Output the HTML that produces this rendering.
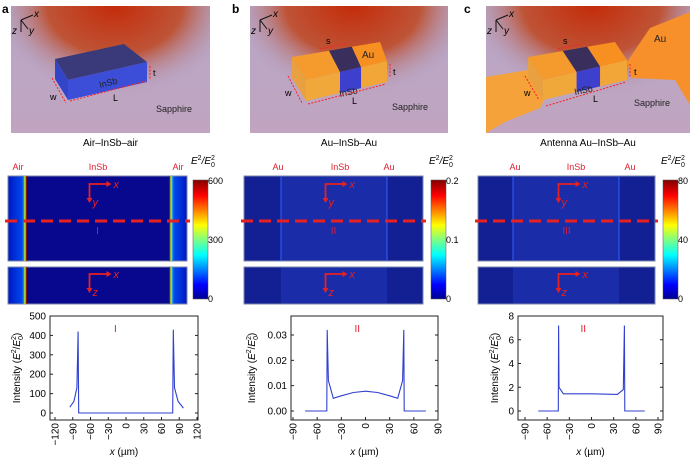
<!DOCTYPE html>
<html><head><meta charset="utf-8"><style>
html,body{margin:0;padding:0;background:#fff}
svg{display:block;font-family:"Liberation Sans",sans-serif}
</style></head><body>
<svg id="s" width="700" height="462" viewBox="0 0 700 462" xmlns="http://www.w3.org/2000/svg">
<defs>
<linearGradient id="bg" x1="0" y1="0" x2="0" y2="1"><stop offset="0" stop-color="#b8a8c8"/><stop offset="1" stop-color="#c0a4c0"/></linearGradient>
<radialGradient id="glow" cx="0.5" cy="0.5" r="0.5"><stop offset="0" stop-color="#c42a08"/><stop offset="0.55" stop-color="#bf4a26" stop-opacity="0.9"/><stop offset="1" stop-color="#b0a0c4" stop-opacity="0"/></radialGradient>
<linearGradient id="jet" x1="0" y1="1" x2="0" y2="0"><stop offset="0" stop-color="#00008f"/><stop offset="0.12" stop-color="#0000ff"/><stop offset="0.37" stop-color="#00ffff"/><stop offset="0.5" stop-color="#80ff80"/><stop offset="0.62" stop-color="#ffff00"/><stop offset="0.87" stop-color="#ff0000"/><stop offset="1" stop-color="#800000"/></linearGradient>
<linearGradient id="airL" x1="0" x2="1"><stop offset="0" stop-color="#0018c0"/><stop offset="0.8" stop-color="#0048f0"/><stop offset="1" stop-color="#40e0c0"/></linearGradient>
<linearGradient id="airR" x1="1" x2="0"><stop offset="0" stop-color="#0018c0"/><stop offset="0.8" stop-color="#0048f0"/><stop offset="1" stop-color="#40e0c0"/></linearGradient>
<clipPath id="clip-a"><rect x="11" y="6" width="199" height="127"/></clipPath>
<clipPath id="clip-b"><rect x="250" y="6" width="198" height="127"/></clipPath>
<clipPath id="clip-c"><rect x="486" y="6" width="204" height="127"/></clipPath>
</defs>
<g id="panels"></g>
<g id="heat"></g>
<g id="plots"></g>
</svg>
<script>
// ---- plot data ----
const xA=[-95,-88,-83,-81,-80,-79,78,79,80,82,88,97];
const yA=[30,60,130,420,0,0,0,0,430,130,60,25];
const xB=[-75,-48,-47.5,-46,-40,-30,-15,0,15,30,40,46,47.5,48,75];
const yB=[0,0,0.032,0.012,0.005,0.006,0.0073,0.0078,0.0073,0.006,0.005,0.012,0.032,0,0];
const xC=[-72,-45,-44.5,-44,-38,0,35,43,44.5,45,72];
const yC=[0,0,7.2,2,1.45,1.45,1.4,1.8,7.2,0,0];
const ticksA=[-120,-90,-60,-30,0,30,60,90,120];
const yticksA=[0,100,200,300,400,500];
const ticksB=[-90,-60,-30,0,30,60,90];
const yticksB=[0,0.01,0.02,0.03];
const yticksBLbl=["0.00","0.01","0.02","0.03"];
const ticksC=[-90,-60,-30,0,30,60,90];
const yticksC=[0,2,4,6,8];

const NS="http://www.w3.org/2000/svg";
function mk(parent,tag,attrs,text){const e=document.createElementNS(NS,tag);for(const k in attrs)e.setAttribute(k,attrs[k]);if(text!==undefined)e.textContent=text;parent.appendChild(e);return e;}
const P=document.getElementById('panels'),H=document.getElementById('heat'),PL=document.getElementById('plots');

// ---- 3D panels ----
function lerp(p,q,t){return [p[0]+(q[0]-p[0])*t,p[1]+(q[1]-p[1])*t];}
function pts(a){return a.map(p=>p[0].toFixed(1)+','+p[1].toFixed(1)).join(' ');}
function box(g,a,b,c,d,h,segs){
  segs.forEach(s=>{
    const A=lerp(a,b,s[0]),B=lerp(a,b,s[1]),C=lerp(d,c,s[1]),D=lerp(d,c,s[0]);
    let e=mk(g,'polygon',{points:pts([A,B,C,D]),fill:s[2]});
    
    e=mk(g,'polygon',{points:pts([D,C,[C[0],C[1]+h],[D[0],D[1]+h]]),fill:s[3]});
    
  });
  const e=mk(g,'polygon',{points:pts([a,d,[d[0],d[1]+h],[a[0],a[1]+h]]),fill:segs[0][4]});
  
}
function triad(g,x,y){
  mk(g,'path',{d:`M${x} ${y} l12 -5 M${x} ${y} l0 12 M${x} ${y} l7 9`,stroke:'#111','stroke-width':1,fill:'none'});
  mk(g,'text',{x:x+13,y:y-3,'font-size':10,'font-style':'italic'},'x');
  mk(g,'text',{x:x-9,y:y+14,'font-size':10,'font-style':'italic'},'z');
  mk(g,'text',{x:x+8,y:y+14,'font-size':10,'font-style':'italic'},'y');
}
function panel(id,x0,w,letter,lx,caption){
  const g=mk(P,'g',{});
  
  const inner=mk(g,'g',{'clip-path':'url(#clip-'+id+')'});
  mk(inner,'rect',{x:x0,y:6,width:w,height:127,fill:'url(#bg)'});
  mk(inner,'ellipse',{cx:x0+w*0.52,cy:4,rx:w*0.62,ry:92,fill:'url(#glow)'});
  const t=mk(g,'text',{x:lx,y:13,'font-size':12,'font-weight':'bold'},letter);
  
  const c=mk(g,'text',{x:x0+w/2,y:146,'font-size':10,'text-anchor':'middle'},caption);
  
  triad(g,x0+10,20);
  return inner;
}
const ga=panel('a',11,199,'a',2,'Air–InSb–air');
box(ga,[55,59],[124,44],[147,62],[68,80],20,[[0,1,'#3a3a7a','#3c4ed8','#3344c8']]);
mk(ga,'text',{x:100,y:88,'font-size':9,transform:'rotate(-14 100 88)',fill:'#222'},'InSb');
mk(ga,'text',{x:156,y:112,'font-size':9,fill:'#222'},'Sapphire');
mk(ga,'path',{d:'M52 78 L66 103 M70 101 L146 81 M150 66 L150 79',stroke:'#ff2020','stroke-width':1,'stroke-dasharray':'2,1.5',fill:'none'});
mk(ga,'text',{x:50,y:100,'font-size':9},'w');mk(ga,'text',{x:113,y:101,'font-size':9},'L');mk(ga,'text',{x:153,y:76,'font-size':9},'t');

const gb=panel('b',250,198,'b',232,'Au–InSb–Au');
box(gb,[292,57],[380,42],[387,61],[306,80],21,[[0,0.42,'#f59a2c','#f0a83a','#e8a040'],[0.42,0.68,'#3a2e5c','#3c40cc'],[0.68,1,'#f79020','#f2a638']]);
mk(gb,'text',{x:340,y:97,'font-size':9,transform:'rotate(-12 340 97)',fill:'#222'},'InSb');
mk(gb,'text',{x:362,y:58,'font-size':10,fill:'#222'},'Au');
mk(gb,'text',{x:392,y:110,'font-size':9,fill:'#222'},'Sapphire');
mk(gb,'path',{d:'M288 76 L302 103 M308 104 L386 84 M390 64 L390 78 M320 49 L345 44',stroke:'#ff2020','stroke-width':1,'stroke-dasharray':'2,1.5',fill:'none'});
mk(gb,'text',{x:285,y:96,'font-size':9},'w');mk(gb,'text',{x:352,y:104,'font-size':9},'L');mk(gb,'text',{x:393,y:75,'font-size':9},'t');mk(gb,'text',{x:326,y:44,'font-size':9},'s');

const gc=panel('c',486,204,'c',464,'Antenna Au–InSb–Au');
let e=mk(gc,'polygon',{points:'486,77 528,70 545,98 540,108 505,122 486,133',fill:'#f5a23a'});

e=mk(gc,'polygon',{points:'627,62 650,28 690,12 690,105 675,80 632,78',fill:'#f7902a'});

box(gc,[528,57],[615,42],[627,60],[543,80],20,[[0,0.4,'#f59a2c','#f0a83a','#e8a040'],[0.4,0.68,'#3a2e5c','#3c40cc'],[0.68,1,'#f79020','#f2a638']]);
mk(gc,'text',{x:575,y:95,'font-size':9,transform:'rotate(-12 575 95)',fill:'#222'},'InSb');
mk(gc,'text',{x:654,y:42,'font-size':10,fill:'#222'},'Au');
mk(gc,'text',{x:634,y:106,'font-size':9,fill:'#222'},'Sapphire');
mk(gc,'path',{d:'M525 76 L539 100 M546 106 L626 82 M630 64 L630 78 M558 49 L582 44',stroke:'#ff2020','stroke-width':1,'stroke-dasharray':'2,1.5',fill:'none'});
mk(gc,'text',{x:524,y:96,'font-size':9},'w');mk(gc,'text',{x:593,y:102,'font-size':9},'L');mk(gc,'text',{x:634,y:75,'font-size':9},'t');mk(gc,'text',{x:563,y:44,'font-size':9},'s');

// ---- heatmaps ----
function arrows(g,x,y,lab){
  mk(g,'path',{d:`M${x} ${y+16} L${x} ${y} L${x+17} ${y}`,stroke:'#e82020','stroke-width':1.8,fill:'none'});
  mk(g,'path',{d:`M${x+17} ${y-3} l5 3 l-5 3z M${x-3} ${y+14} l3 5 l3 -5z`,fill:'#e82020'});
  mk(g,'text',{x:x+24,y:y+4,'font-size':11,'font-style':'italic',fill:'#e82020'},'x');
  mk(g,'text',{x:x+3,y:y+22,'font-size':11,'font-style':'italic',fill:'#e82020'},lab);
}
function heat(id,x0,x1,i0,i1,bgIn,bgOut,air,cbx,cbl,roman,labs){
  const g=mk(H,'g',{});
  
  [[176,261,'top'],[267,304,'bottom']].forEach(r=>{
    let e=mk(g,'rect',{x:x0,y:r[0],width:x1-x0,height:r[1]-r[0],fill:bgOut,stroke:'#7b86a8','stroke-width':1});
    
    mk(g,'rect',{x:i0,y:r[0]+0.5,width:i1-i0,height:r[1]-r[0]-1,fill:bgIn});
    if(air){
      mk(g,'rect',{x:x0+0.5,y:r[0]+0.5,width:i0-x0,height:r[1]-r[0]-1,fill:'url(#airL)'});
      mk(g,'rect',{x:i1,y:r[0]+0.5,width:x1-i1-0.5,height:r[1]-r[0]-1,fill:'url(#airR)'});
      mk(g,'line',{x1:i0,y1:r[0],x2:i0,y2:r[1],stroke:'#c0e020','stroke-width':1.5});
      mk(g,'line',{x1:i0+1.5,y1:r[0],x2:i0+1.5,y2:r[1],stroke:'#802000','stroke-width':1});
      mk(g,'line',{x1:i1,y1:r[0],x2:i1,y2:r[1],stroke:'#c0e020','stroke-width':1.5});
      mk(g,'line',{x1:i1-1.5,y1:r[0],x2:i1-1.5,y2:r[1],stroke:'#802000','stroke-width':1});
    } else if(r[2]==='top'){
      mk(g,'line',{x1:i0,y1:r[0],x2:i0,y2:r[1],stroke:'#3060ff','stroke-width':1});
      mk(g,'line',{x1:i1,y1:r[0],x2:i1,y2:r[1],stroke:'#3060ff','stroke-width':1});
    }
  });
  const cx=(x0+x1)/2;
  arrows(g,cx-8,184,'y');arrows(g,cx-8,274,'z');
  let d=mk(g,'line',{x1:x0-3,y1:221,x2:x1+3,y2:221,stroke:'#e82020','stroke-width':3,'stroke-dasharray':'12,6'});
  
  mk(g,'text',{x:cx,y:234,'font-size':10,'text-anchor':'middle',fill:'#d02040'},roman);
  labs.forEach(l=>mk(g,'text',{x:l[0],y:170,'font-size':9,'text-anchor':'middle',fill:'#e02030'},l[1]));
  let cb=mk(g,'rect',{x:cbx,y:180,width:15,height:119,fill:'url(#jet)',stroke:'#555','stroke-width':0.5});
  
  mk(g,'text',{x:cbx+15,y:184,'font-size':9},cbl[0]);
  mk(g,'text',{x:cbx+15,y:243,'font-size':9},cbl[1]);
  mk(g,'text',{x:cbx+15,y:302,'font-size':9},cbl[2]);
  const t=mk(g,'text',{x:cbx-2,y:164,'font-size':10,'font-style':'italic'});
  t.innerHTML='E<tspan dy="-4" font-size="7" font-style="normal">2</tspan><tspan dy="4">/E</tspan><tspan font-size="7" dy="3" font-style="normal">0</tspan><tspan font-size="7" dy="-7" dx="-4" font-style="normal">2</tspan>';
}
heat('a',8,187,25,171,'#08088e','#08088e',true,193,['600','300','0'],'I',[[18,'Air'],[98,'InSb'],[178,'Air']]);
heat('b',244,423,281,387,'#1a2ca8','#122094',false,431,['0.2','0.1','0'],'II',[[278,'Au'],[340,'InSb'],[389,'Au']]);
heat('c',478,655,513,619,'#1a2ca8','#122094',false,663,['80','40','0'],'III',[[515,'Au'],[576,'InSb'],[630,'Au']]);

// ---- line plots ----
function plot(id,fx0,fx1,xd,xr,yd,yr,xt,yt,ytl,xs,ys,roman){
  const g=mk(PL,'g',{});
  
  const sx=v=>xr[0]+(v-xd[0])/(xd[1]-xd[0])*(xr[1]-xr[0]);
  const sy=v=>yr[0]+(v-yd[0])/(yd[1]-yd[0])*(yr[1]-yr[0]);
  let f=mk(g,'rect',{x:fx0,y:316,width:fx1-fx0,height:104,fill:'none',stroke:'#222','stroke-width':1});
  
  yt.forEach((v,i)=>{const y=sy(v);
    mk(g,'line',{x1:fx0,y1:y,x2:fx0+3,y2:y,stroke:'#222'});mk(g,'line',{x1:fx1,y1:y,x2:fx1-3,y2:y,stroke:'#222'});
    const t=mk(g,'text',{x:fx0-4,y:y+3.5,'font-size':10,'text-anchor':'end'},ytl?ytl[i]:String(v));
    });
  xt.forEach(v=>{const x=sx(v);
    mk(g,'line',{x1:x,y1:420,x2:x,y2:417,stroke:'#222'});
    const t=mk(g,'text',{x:x+3.5,y:423,'font-size':10,'text-anchor':'end',transform:`rotate(-90 ${x+3.5} 423)`},v<0?'−'+(-v):String(v));
    });
  const line=mk(g,'polyline',{points:xs.map((v,i)=>sx(v).toFixed(1)+','+sy(ys[i]).toFixed(1)).join(' '),fill:'none',stroke:'#3040d0','stroke-width':1.1});
  
  mk(g,'text',{x:(fx0+fx1)/2-10,y:332,'font-size':10,fill:'#e02030'},roman);
  const xl=mk(g,'text',{x:(fx0+fx1)/2,y:455,'font-size':10,'text-anchor':'middle'});
  xl.innerHTML='<tspan font-style="italic">x</tspan> (µm)';
  
  const yx=fx0-(id==='a'?30:id==='b'?36:20);
  const yl=mk(g,'text',{x:yx,y:368,'font-size':10,'text-anchor':'middle',transform:`rotate(-90 ${yx} 368)`});
  yl.innerHTML='Intensity (<tspan font-style="italic">E</tspan><tspan font-size="7" dy="-4">2</tspan><tspan dy="4">/</tspan><tspan font-style="italic">E</tspan><tspan font-size="7" dy="3">0</tspan><tspan font-size="7" dy="-7" dx="-4">2</tspan><tspan dy="4">)</tspan>';
  
}
plot('a',50,198,[-120,120],[55,197],[0,500],[413,316],ticksA,yticksA,null,xA,yA,'I');
plot('b',291,438,[-90,90],[293,438],[0,0.03],[411,335],ticksB,yticksB,yticksBLbl,xB,yB,'II');
plot('c',518,663,[-90,90],[525,658],[0,8],[411,316],ticksC,yticksC,null,xC,yC,'II');
</script>
</body></html>
